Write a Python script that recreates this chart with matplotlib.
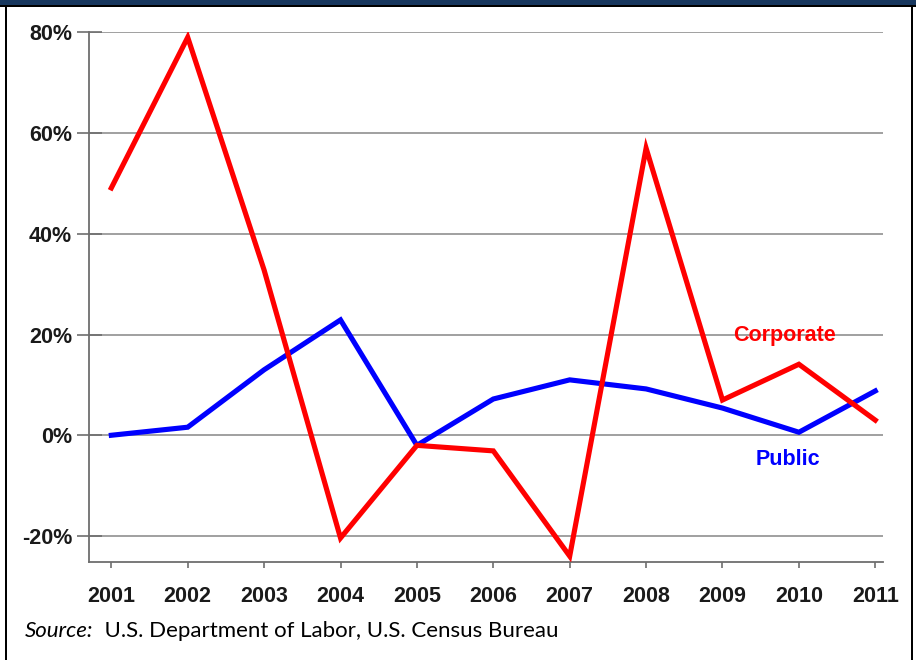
import matplotlib
matplotlib.use("Agg")
import matplotlib.pyplot as plt
from matplotlib.patches import Rectangle

years = [2001, 2002, 2003, 2004, 2005, 2006, 2007, 2008, 2009, 2010, 2011]
corporate = [49.1, 79.0, 32.8, -20.4, -2.0, -3.1, -24.0, 57.0, 7.0, 14.1, 3.0]
public = [0.0, 1.6, 13.0, 22.9, -2.0, 7.2, 11.0, 9.2, 5.4, 0.6, 8.8]
yticks = [-20, 0, 20, 40, 60, 80]
ytick_labels = ["-20%", "0%", "20%", "40%", "60%", "80%"]
source_label = "Source:"
source_text = "  U.S. Department of Labor, U.S. Census Bureau"

W, H = 916, 660
fig = plt.figure(figsize=(W / 100, H / 100), dpi=100)
fig.patch.set_facecolor("white")

# frame decorations
fig.add_artist(Rectangle((0, 1 - 4.5 / H), 1, 4.5 / H, transform=fig.transFigure,
                         facecolor="#17375E", edgecolor="none"))
fig.add_artist(Rectangle((0, 1 - 7 / H), 1, 2.5 / H, transform=fig.transFigure,
                         facecolor="black", edgecolor="none"))
fig.add_artist(Rectangle((5 / W, 0), 2 / W, 1 - 7 / H, transform=fig.transFigure,
                         facecolor="black", edgecolor="none"))
fig.add_artist(Rectangle((910.5 / W, 0), 2 / W, 1 - 7 / H, transform=fig.transFigure,
                         facecolor="black", edgecolor="none"))

ax = fig.add_axes([88.7 / W, 1 - 561.7 / H, (882.7 - 88.7) / W, (561.7 - 32.3) / H])
ax.set_xlim(2000.704, 2011.097)
ax.set_ylim(-25.1, 80)

ax.plot(years, public, color="#0000FF", lw=3.7, solid_joinstyle="miter", zorder=3)
ax.plot(years, corporate, color="#FF0000", lw=3.7, solid_joinstyle="miter", zorder=4)

for s in ["top", "right"]:
    ax.spines[s].set_visible(False)
for s in ["left", "bottom"]:
    ax.spines[s].set_color("#6e6e6e")
    ax.spines[s].set_linewidth(1.3)

ax.set_yticks(yticks)
ax.set_yticklabels(ytick_labels)
ax.set_xticks(years)
ax.set_xticklabels([str(y) for y in years])
ax.yaxis.grid(True, color="#a0a0a0", lw=1.4)
ax.set_axisbelow(True)

ax.tick_params(axis="y", direction="inout", length=18, width=1.2, color="#6e6e6e", pad=3)
ax.tick_params(axis="x", direction="out", length=4.5, width=1.2, color="#6e6e6e", pad=13)
for lab in ax.get_yticklabels() + ax.get_xticklabels():
    lab.set_fontfamily("Liberation Sans")
    lab.set_fontweight("bold")
    lab.set_fontsize(15.5)
    lab.set_color("#1a1a1a")

ax.text(2009.81, 19.9, "Corporate", color="#FF0000", fontsize=15.5, fontweight="bold",
        family="Liberation Sans", ha="center", va="center")
ax.text(2009.86, -4.9, "Public", color="#0000FF", fontsize=15.5, fontweight="bold",
        family="Liberation Sans", ha="center", va="center")

t1 = fig.text(25 / W, 1 - 631 / H, source_label, fontsize=16, family="Lato", style="italic",
              va="center", ha="left", color="black")
fig.canvas.draw()
bb = t1.get_window_extent()
fig.text(bb.x1 / W, 1 - 631 / H, source_text, fontsize=16, family="Lato",
         va="center", ha="left", color="black")

fig.savefig("out.png", dpi=100, facecolor="white")
